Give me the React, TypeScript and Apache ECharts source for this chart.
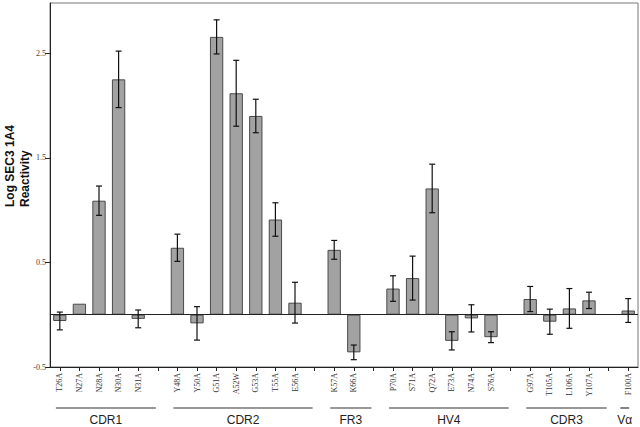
import React, { useEffect, useRef } from "react";
import * as echarts from "echarts";

// Categories ('' = empty slot between groups)
const categories = [
  "T26A", "N27A", "N28A", "N30A", "N31A", "",
  "Y48A", "Y50A", "G51A", "A52W", "G53A", "T55A", "E56A", "",
  "K57A", "K66A", "",
  "P70A", "S71A", "Q72A", "E73A", "N74A", "S76A", "",
  "G97A", "T105A", "L106A", "Y107A", "",
  "F100A",
];

// Log SEC3 1A4 reactivity (null = empty slot)
const values = [
  -0.06, 0.105, 1.09, 2.25, -0.04, null,
  0.64, -0.083, 2.656, 2.117, 1.9, 0.91, 0.115, null,
  0.62, -0.36, null,
  0.25, 0.35, 1.207, -0.25, -0.035, -0.215, null,
  0.15, -0.067, 0.06, 0.137, null,
  0.04,
];

// Error (half-length of error bar)
const errors = [
  0.085, 0, 0.14, 0.27, 0.085, null,
  0.13, 0.16, 0.163, 0.315, 0.16, 0.16, 0.195, null,
  0.09, 0.07, null,
  0.122, 0.21, 0.232, 0.087, 0.13, 0.052, null,
  0.12, 0.12, 0.19, 0.078, null,
  0.114,
];

const yTickValues = [-0.5, 0.5, 1.5, 2.5];

const groupNames = ["CDR1", "CDR2", "FR3", "HV4", "CDR3", "V\u03b1"];
const groupFirst = ["T26A", "Y48A", "K57A", "P70A", "G97A", "F100A"];
const groupLast = ["N31A", "E56A", "K66A", "S76A", "Y107A", "F100A"];

export default function App() {
  const ref = useRef<HTMLDivElement>(null);

  useEffect(() => {
    if (!ref.current) return;
    const chart = echarts.init(ref.current, null, { renderer: "svg" });

    const barData = values.map((v) => (v === null ? "-" : v));
    const errData: any[] = [];
    values.forEach((v, i) => {
      const e = errors[i];
      if (v !== null && e) errData.push([i, v, e]);
    });

    chart.setOption({
      animation: false,
      backgroundColor: "#ffffff",
      grid: {
        left: 50,
        right: 2,
        top: 3,
        bottom: 60,
        show: true,
        borderColor: "#777",
        borderWidth: 1,
        backgroundColor: "transparent",
      },
      xAxis: {
        type: "category",
        data: categories,
        boundaryGap: true,
        axisLine: { show: true, onZero: false, lineStyle: { color: "#222", width: 1 } },
        axisTick: {
          show: true,
          alignWithLabel: true,
          interval: 0,
          length: 4,
          lineStyle: { color: "#222" },
        },
        axisLabel: {
          interval: 0,
          rotate: 90,
          fontSize: 8,
          fontFamily: "Liberation Serif",
          color: "#333",
          margin: 6,
        },
        splitLine: { show: false },
      },
      yAxis: {
        type: "value",
        min: -0.5,
        max: 2.98,
        axisLine: { show: true, lineStyle: { color: "#222", width: 1 } },
        axisTick: {
          show: true,
          length: 5,
          customValues: yTickValues,
          lineStyle: { color: "#222" },
        },
        axisLabel: {
          customValues: yTickValues,
          fontSize: 8,
          fontFamily: "Liberation Serif",
          color: "#444",
          margin: 4,
          formatter: (v: number) => String(v),
        },
        splitLine: { show: false },
      },
      series: [
        {
          type: "bar",
          data: barData,
          barWidth: "68%",
          itemStyle: { color: "#a2a2a2", borderColor: "#4a4a4a", borderWidth: 1 },
          z: 2,
          markLine: {
            silent: true,
            symbol: "none",
            label: { show: false },
            lineStyle: { color: "#222", width: 1, type: "solid" },
            data: [{ yAxis: 0 }],
          },
        },
        {
          type: "custom",
          data: errData,
          encode: { x: 0, y: 1 },
          z: 5,
          renderItem: (params: any, api: any) => {
            const x = api.value(0);
            const v = api.value(1);
            const e = api.value(2);
            const top = api.coord([x, v + e]);
            const bot = api.coord([x, v - e]);
            const hw = 3;
            const style = { stroke: "#111", lineWidth: 1.2 };
            return {
              type: "group",
              children: [
                { type: "line", shape: { x1: top[0], y1: top[1], x2: bot[0], y2: bot[1] }, style },
                { type: "line", shape: { x1: top[0] - hw, y1: top[1], x2: top[0] + hw, y2: top[1] }, style },
                { type: "line", shape: { x1: bot[0] - hw, y1: bot[1], x2: bot[0] + hw, y2: bot[1] }, style },
              ],
            };
          },
        },
      ],
    });

    // Group brackets below the axis, positioned from the category scale
    const step =
      (chart.convertToPixel({ xAxisIndex: 0 }, 1) as number) -
      (chart.convertToPixel({ xAxisIndex: 0 }, 0) as number);
    const axisY = chart.convertToPixel({ yAxisIndex: 0 }, -0.5) as number;
    const graphics: any[] = [];
    groupNames.forEach((name, g) => {
      const fi = categories.indexOf(groupFirst[g]);
      const li = categories.indexOf(groupLast[g]);
      const cf = chart.convertToPixel({ xAxisIndex: 0 }, fi) as number;
      const cl = chart.convertToPixel({ xAxisIndex: 0 }, li) as number;
      const hasGapAfter = li + 1 < categories.length && categories[li + 1] === "";
      const x1 = cf - (hasGapAfter ? 0.2 : 0.4) * step;
      const x2 = hasGapAfter ? cl + 0.9 * step : cl + 0.05 * step;
      graphics.push({
        type: "line",
        shape: { x1, y1: axisY + 41, x2, y2: axisY + 41 },
        style: { stroke: "#333", lineWidth: 1.2 },
      });
      graphics.push({
        type: "text",
        x: (x1 + x2) / 2,
        y: axisY + 53,
        style: {
          text: name,
          font: "12px 'Liberation Sans', Arial, sans-serif",
          fill: "#222",
          textAlign: "center",
          textVerticalAlign: "middle",
        },
      });
    });
    graphics.push({
      type: "text",
      x: 17,
      y: 207,
      rotation: Math.PI / 2,
      style: {
        text: "Log SEC3 1A4\nReactivity",
        font: "bold 12px 'Liberation Sans', Arial, sans-serif",
        fill: "#111",
        textAlign: "left",
        textVerticalAlign: "middle",
        lineHeight: 15,
      },
    });
    chart.setOption({ graphic: graphics });

    return () => chart.dispose();
  }, []);

  return (
    <div
      ref={ref}
      style={{ position: "absolute", left: 0, top: 0, width: 640, height: 427 }}
    />
  );
}
